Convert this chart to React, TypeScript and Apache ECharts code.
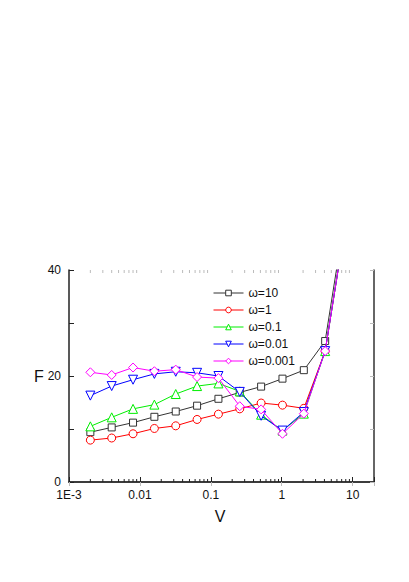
import React, { useEffect, useRef } from 'react';
import * as echarts from 'echarts';

const xValues = [0.002, 0.004, 0.008, 0.016, 0.032, 0.064, 0.128, 0.256, 0.512, 1.024, 2.048, 4.096, 8.192];
const seriesNames = ['ω=10', 'ω=1', 'ω=0.1', 'ω=0.01', 'ω=0.001'];
const w10 = [9.4, 10.3, 11.2, 12.3, 13.3, 14.4, 15.7, 16.9, 18.0, 19.5, 21.1, 26.6, 52];
const w1 = [7.9, 8.3, 9.1, 10.1, 10.6, 11.8, 12.8, 13.8, 14.9, 14.5, 13.9, 24.7, 50];
const w01 = [10.5, 12.2, 13.8, 14.6, 16.6, 18.1, 18.6, 17.1, 12.7, 9.7, 12.9, 24.7, 50];
const w001 = [16.3, 18.1, 19.3, 20.4, 20.8, 20.6, 20.0, 17.0, 12.5, 9.7, 13.2, 24.7, 50];
const w0001 = [20.7, 20.2, 21.6, 20.9, 21.2, 19.8, 19.6, 14.3, 13.7, 9.1, 12.9, 24.7, 50];
const xTickValues = [0.001, 0.01, 0.1, 1, 10];
const xTickLabels = ['1E-3', '0.01', '0.1', '1', '10'];
const xMinorTicks = [
  0.002, 0.003, 0.004, 0.005, 0.006, 0.007, 0.008, 0.009,
  0.02, 0.03, 0.04, 0.05, 0.06, 0.07, 0.08, 0.09,
  0.2, 0.3, 0.4, 0.5, 0.6, 0.7, 0.8, 0.9,
  2, 3, 4, 5, 6, 7, 8, 9,
];
const yLabelValues = [0, 20, 40];

const FONT = '"Liberation Sans", Arial, Helvetica, sans-serif';

export default function App() {
  const ref = useRef<HTMLDivElement>(null);
  useEffect(() => {
    document.body.style.margin = '0';
    const chart = echarts.init(ref.current!, null, { renderer: 'svg' });
    const colors = ['#333333', '#ff0000', '#00ee00', '#0000ff', '#ff00ff'];
    const symbols = ['rect', 'circle', 'triangle', 'triangle', 'diamond'];
    const rotates = [0, 0, 0, 180, 0];
    const sizes = [7, 8, 9, 9, 9];
    const dataSets = [w10, w1, w01, w001, w0001];
    const lineSeries = dataSets.map((d, i) => ({
      type: 'line',
      name: seriesNames[i],
      data: xValues.map((x, j) => [x, d[j]]),
      symbol: symbols[i],
      symbolRotate: rotates[i],
      symbolSize: sizes[i],
      showAllSymbol: true,
      clip: true,
      lineStyle: { color: colors[i], width: 1 },
      itemStyle: { color: '#ffffff', borderColor: colors[i], borderWidth: 1 },
      z: 3 + i,
    }));
    chart.setOption({
      animation: false,
      textStyle: { fontFamily: FONT },
      grid: { left: 69, right: 35, top: 270, bottom: 100, containLabel: false },
      xAxis: [
        {
          type: 'log',
          logBase: 10,
          min: 0.001,
          max: 20,
          position: 'bottom',
          axisLine: { show: true, lineStyle: { color: '#222', width: 1.5 } },
          axisTick: { show: true, inside: true, length: 5, lineStyle: { color: '#222', width: 1 } },
          splitLine: { show: false },
          axisLabel: {
            color: '#111',
            fontSize: 12,
            lineHeight: 12,
            fontFamily: FONT,
            margin: 7,
            formatter: (v: number) => {
              const idx = xTickValues.findIndex((t) => Math.abs(Math.log10(t) - Math.log10(v)) < 1e-6);
              return idx >= 0 ? xTickLabels[idx] : '';
            },
          },
        },
        {
          type: 'log',
          logBase: 10,
          min: 0.001,
          max: 20,
          position: 'top',
          axisLine: { show: true, lineStyle: { color: '#333', width: 1.5 } },
          axisTick: { show: true, inside: true, length: 4, lineStyle: { color: '#bbb', width: 1 } },
          axisLabel: { show: false },
          splitLine: { show: false },
        },
      ],
      yAxis: [
        {
          type: 'value',
          min: 0,
          max: 40,
          interval: 10,
          position: 'left',
          axisLine: { show: true, lineStyle: { color: '#222', width: 1.5 } },
          axisTick: { show: true, inside: true, length: 5, lineStyle: { color: '#222', width: 1 } },
          splitLine: { show: false },
          axisLabel: {
            color: '#111',
            fontSize: 12,
            lineHeight: 11,
            fontFamily: FONT,
            margin: 8,
            formatter: (v: number) => (yLabelValues.includes(v) ? String(v) : ''),
          },
        },
        {
          type: 'value',
          min: 0,
          max: 40,
          interval: 10,
          position: 'right',
          axisLine: { show: true, lineStyle: { color: '#333', width: 1.5 } },
          axisTick: { show: true, inside: true, length: 4, lineStyle: { color: '#bbb', width: 1 } },
          axisLabel: { show: false },
          splitLine: { show: false },
        },
      ],
      legend: {
        data: seriesNames,
        orient: 'vertical',
        left: 208,
        top: 281,
        padding: 5,
        itemWidth: 30,
        itemHeight: 7,
        itemGap: 3,
        lineStyle: { width: 1 },
        itemStyle: { borderWidth: 1 },
        textStyle: { fontSize: 12, color: '#111', fontFamily: FONT, lineHeight: 14 },
      },
      graphic: [
        {
          type: 'text',
          x: 39,
          y: 376,
          style: { text: 'F', font: `16px ${FONT}`, fill: '#111', align: 'center', verticalAlign: 'middle' },
        },
        {
          type: 'text',
          x: 220,
          y: 516,
          style: { text: 'V', font: `16px ${FONT}`, fill: '#111', align: 'center', verticalAlign: 'middle' },
        },
      ],
      series: [
        ...lineSeries,
        {
          type: 'custom',
          name: 'minorTicks',
          silent: true,
          data: xMinorTicks.map((v) => [v, 0]),
          encode: { x: 0, y: 1 },
          z: 1,
          renderItem: (_params: any, api: any) => {
            const v = api.value(0);
            const b = api.coord([v, 0]);
            const t = api.coord([v, 40]);
            return {
              type: 'group',
              children: [
                { type: 'line', shape: { x1: b[0], y1: b[1], x2: b[0], y2: b[1] - 3 }, style: { stroke: '#222', lineWidth: 1 } },
                { type: 'line', shape: { x1: t[0], y1: t[1], x2: t[0], y2: t[1] + 3 }, style: { stroke: '#bbb', lineWidth: 1 } },
              ],
            };
          },
        },
      ],
    });
    return () => chart.dispose();
  }, []);
  return <div ref={ref} style={{ width: 409, height: 582 }} />;
}
